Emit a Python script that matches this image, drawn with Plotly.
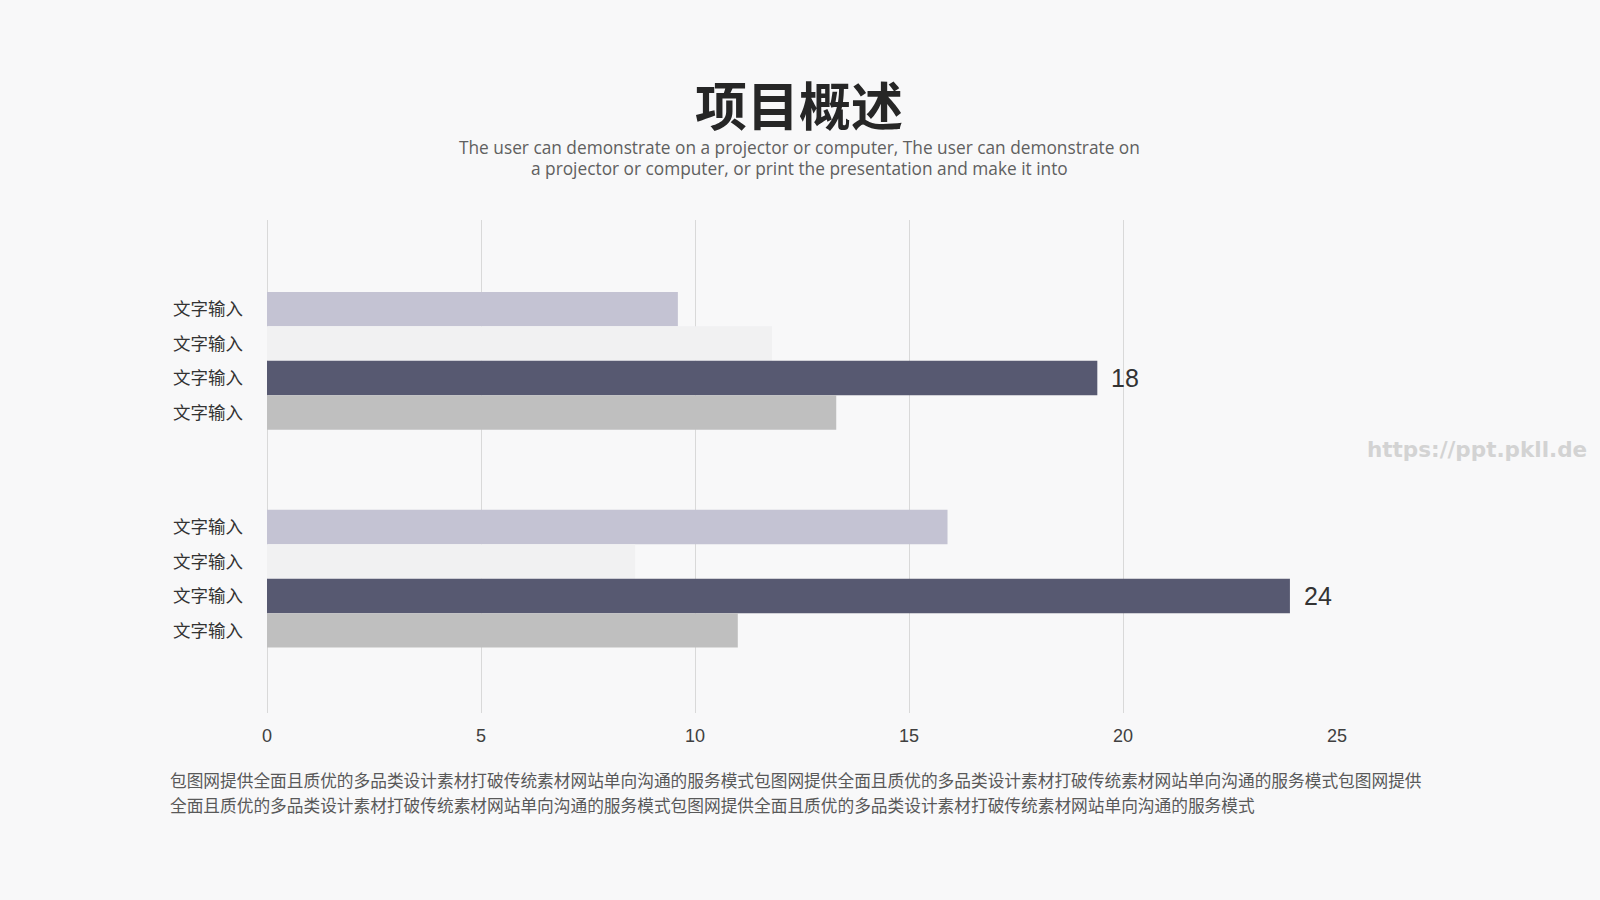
import plotly.graph_objects as go

# ---- data ----
group_positions = [0, 1]
series_light_purple = [9.6, 15.9]
series_very_light = [11.8, 8.6]
series_dark = [19.4, 23.9]
series_gray = [13.3, 11.0]
dark_labels = ["18", "24"]
bar_labels = ["文字输入", "文字输入", "文字输入", "文字输入",
              "文字输入", "文字输入", "文字输入", "文字输入"]
x_ticks = [0, 5, 10, 15, 20, 25]

title_text = "项目概述"
subtitle_lines = [
    "The user can demonstrate on a projector or computer, The user can demonstrate on",
    "a projector or computer, or print the presentation and make it into",
]
bottom_lines = [
    "包图网提供全面且质优的多品类设计素材打破传统素材网站单向沟通的服务模式包图网提供全面且质优的多品类设计素材打破传统素材网站单向沟通的服务模式包图网提供",
    "全面且质优的多品类设计素材打破传统素材网站单向沟通的服务模式包图网提供全面且质优的多品类设计素材打破传统素材网站单向沟通的服务模式",
]
watermark = "https://ppt.pkll.de"

# ---- styling ----
colors = ["#c4c3d3", "#f1f1f2", "#575971", "#bfbfbf"]
BAR_W = 0.158
W, H = 1600, 900
L, R, T, B = 267.3, 263.3, 220, 187
PW = W - L - R
PH = H - T - B


def px(x):
    return (x - L) / PW


def py(y):
    return (H - B - y) / PH


series_all = [series_light_purple, series_very_light, series_dark, series_gray]

fig = go.Figure()
for s, vals in enumerate(series_all):
    ys = [g + (s - 1.5) * BAR_W for g in group_positions]
    fig.add_trace(go.Bar(
        x=vals, y=ys, orientation="h", width=BAR_W,
        marker=dict(color=colors[s], line=dict(width=0)),
        showlegend=False, hoverinfo="x",
    ))
tickvals = sorted(g + (s - 1.5) * BAR_W for g in group_positions for s in range(4))

annotations = []
for g, v, lab in zip(group_positions, series_dark, dark_labels):
    annotations.append(dict(
        x=v, y=g + (2 - 1.5) * BAR_W, xref="x", yref="y", text=lab,
        showarrow=False, xanchor="left", yanchor="middle", xshift=12,
        font=dict(family="Liberation Sans, Arial", size=25, color="#333333"),
    ))

annotations.append(dict(
    x=px(799.5), y=py(103.5), xref="paper", yref="paper", text="<b>" + title_text + "</b>",
    showarrow=False, xanchor="center", yanchor="middle",
    font=dict(family="Noto Sans CJK SC", size=52, color="#262626", weight=900),
))
for i, line in enumerate(subtitle_lines):
    annotations.append(dict(
        x=px(799.5), y=py(148 + i * 20.4), xref="paper", yref="paper", text=line,
        showarrow=False, xanchor="center", yanchor="middle",
        font=dict(family="Open Sans", size=17.3, color="#606060"),
    ))
for i, line in enumerate(bottom_lines):
    annotations.append(dict(
        x=px(168.4), y=py(779.6 + i * 25.4), xref="paper", yref="paper", text=line,
        showarrow=False, xanchor="left", yanchor="middle",
        font=dict(family="Noto Sans CJK SC", size=16.7, color="#595959"),
    ))
annotations.append(dict(
    x=px(1477), y=py(449), xref="paper", yref="paper", text="<b>" + watermark + "</b>",
    showarrow=False, xanchor="center", yanchor="middle",
    font=dict(family="DejaVu Sans", size=21.5, color="#d3d3d3"),
))

fig.update_layout(
    width=W, height=H,
    margin=dict(l=L, r=R, t=T, b=B, pad=0),
    paper_bgcolor="#f8f8f9",
    plot_bgcolor="rgba(0,0,0,0)",
    barmode="overlay",
    annotations=annotations,
    xaxis=dict(
        range=[0, 25], tickvals=x_ticks, showgrid=True, gridcolor="#d9d9d9", gridwidth=1,
        zeroline=True, zerolinecolor="#d9d9d9", zerolinewidth=1, showline=False,
        ticks="", ticklabelstandoff=10,
        tickfont=dict(family="Liberation Sans, Arial", size=18, color="#404040"),
        fixedrange=True,
    ),
    yaxis=dict(
        range=[1.616, -0.646], tickvals=tickvals, ticktext=bar_labels,
        showgrid=False, zeroline=False, showline=False, ticks="",
        ticklabelstandoff=23,
        tickfont=dict(family="Noto Sans CJK SC", size=17.5, color="#333333"),
        fixedrange=True,
    ),
)

fig.write_html("out.html", config={"displayModeBar": False},
               post_script="document.body.style.margin='0';")
